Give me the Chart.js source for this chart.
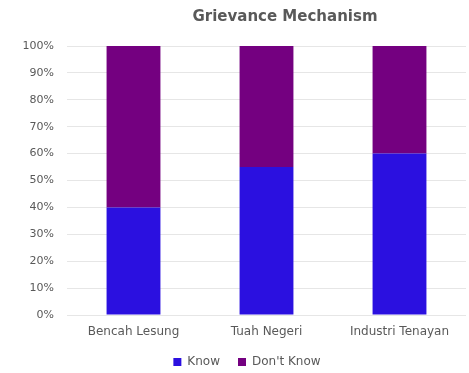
<!DOCTYPE html>
<html>
<head>
<meta charset="utf-8">
<script src="https://cdn.jsdelivr.net/npm/chart.js@4"></script>
<style>
html,body{margin:0;padding:0;background:#fff;}
#wrap{width:469px;height:373px;}
</style>
</head>
<body>
<div id="wrap"><canvas id="c" width="469" height="373"></canvas></div>
<script>
const chartTitle = "Grievance Mechanism";
const categories = ["Bencah Lesung", "Tuah Negeri", "Industri Tenayan"];
const seriesNames = ["Know", "Don't Know"];
const knowValues = [40, 55, 60];
const dontKnowValues = [60, 45, 40];
const yTicks = [0,10,20,30,40,50,60,70,80,90,100];

const textColor = "#595959";
const fontFamily = "'DejaVu Sans', 'Liberation Sans', sans-serif";

const titlePlugin = {
  id: 'customTitle',
  afterDraw(chart) {
    const ctx = chart.ctx;
    ctx.save();
    ctx.font = "bold 15px " + fontFamily;
    ctx.fillStyle = textColor;
    ctx.textAlign = "center";
    ctx.textBaseline = "middle";
    ctx.fillText(chartTitle, 285, 17);
    ctx.restore();
  }
};

const legendTweakPlugin = {
  id: 'legendTweak',
  beforeLayout(chart) {
    const lg = chart.legend;
    if (lg && !lg._patched) {
      const origFit = lg.fit.bind(lg);
      lg.fit = function () { origFit(); this.height = 35; };
      const origDraw = lg.draw.bind(lg);
      lg.draw = function () {
        const ctx = this.ctx;
        ctx.save();
        ctx.translate(14, 0);
        origDraw();
        ctx.restore();
      };
      lg._patched = true;
    }
  }
};

new Chart(document.getElementById('c'), {
  type: 'bar',
  data: {
    labels: categories,
    datasets: [
      { label: seriesNames[0], data: knowValues, backgroundColor: '#2B10E0', borderWidth: 0 },
      { label: seriesNames[1], data: dontKnowValues, backgroundColor: '#740080', borderWidth: 0 }
    ]
  },
  options: {
    responsive: false,
    animation: false,
    devicePixelRatio: 1,
    layout: { padding: { top: 46, right: 3, bottom: 0, left: 0 } },
    datasets: { bar: { categoryPercentage: 1, barPercentage: 0.405 } },
    plugins: {
      title: { display: false },
      tooltip: { enabled: false },
      legend: {
        position: 'bottom',
        labels: {
          boxWidth: 8, boxHeight: 8, padding: 18,
          color: textColor,
          font: { size: 12, family: fontFamily }
        }
      }
    },
    scales: {
      x: {
        stacked: true,
        grid: { display: false, drawTicks: false },
        border: { display: false },
        ticks: { color: textColor, font: { size: 12, family: fontFamily }, padding: 10 },
        afterFit(s) { s.height = 23; }
      },
      y: {
        stacked: true,
        min: 0, max: 100,
        afterBuildTicks(s) { s.ticks = yTicks.map(v => ({ value: v })); },
        grid: { color: '#e6e6e6', drawTicks: false },
        border: { display: false },
        ticks: {
          color: textColor, font: { size: 11, family: fontFamily }, padding: 13,
          callback: v => v + '%'
        },
        afterFit(s) { s.width = 67; }
      }
    }
  },
  plugins: [titlePlugin, legendTweakPlugin]
});
</script>
</body>
</html>
